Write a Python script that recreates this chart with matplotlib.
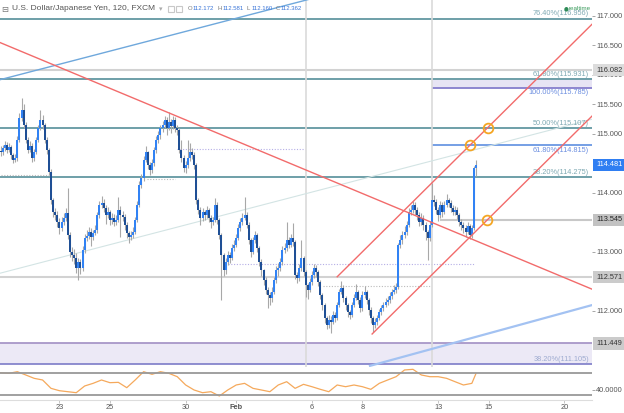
import numpy as np
import matplotlib
matplotlib.use('Agg')
import matplotlib.pyplot as plt
from matplotlib.transforms import blended_transform_factory
from matplotlib.patches import Rectangle

plt.rcParams['font.family'] = ['Liberation Sans', 'DejaVu Sans']

# USD/JPY 2h bars, FXCM
first_open = 114.72
closes = [
    114.69, 114.76, 114.81, 114.73, 114.78, 114.64, 114.56, 114.59, 114.90, 115.27,
    115.41, 115.15, 114.90, 114.73, 114.80, 114.59, 114.69, 114.90, 115.10, 115.24,
    115.15, 114.90, 114.73, 114.36, 113.88, 113.68, 113.63, 113.51, 113.41, 113.51,
    113.58, 113.66, 113.29, 113.00, 112.95, 112.90, 112.73, 112.83, 112.73, 113.03,
    113.24, 113.27, 113.34, 113.25, 113.32, 113.37, 113.63, 113.80, 113.83, 113.75,
    113.63, 113.68, 113.54, 113.58, 113.51, 113.54, 113.71, 113.63, 113.59, 113.46,
    113.32, 113.25, 113.29, 113.34, 113.54, 113.80, 114.14, 114.25, 114.56, 114.69,
    114.47, 114.39, 114.51, 114.73, 114.90, 114.98, 115.10, 115.15, 115.24, 115.10,
    115.20, 115.14, 115.24, 115.10, 115.07, 114.73, 114.59, 114.42, 114.47, 114.59,
    114.69, 114.64, 114.47, 113.88, 113.71, 113.58, 113.68, 113.63, 113.71, 113.58,
    113.51, 113.54, 113.80, 113.54, 113.29, 112.95, 112.69, 112.83, 112.95, 112.90,
    113.07, 113.12, 113.24, 113.41, 113.51, 113.58, 113.63, 113.46, 113.20, 113.00,
    113.20, 113.29, 113.07, 112.83, 112.69, 112.53, 112.36, 112.27, 112.22, 112.32,
    112.53, 112.69, 112.73, 112.83, 113.03, 113.07, 113.20, 113.12, 113.24, 113.17,
    112.61, 112.56, 112.73, 112.90, 112.66, 112.44, 112.36, 112.49, 112.61, 112.73,
    112.66, 112.49, 112.27, 112.10, 111.88, 111.76, 111.85, 111.81, 111.93, 111.88,
    112.10, 112.32, 112.39, 112.22, 112.10, 111.98, 111.93, 112.10, 112.22, 112.32,
    112.19, 112.05, 112.27, 112.32, 112.19, 112.02, 111.88, 111.76, 111.81, 111.88,
    111.98, 112.05, 112.10, 112.15, 112.19, 112.25, 112.32, 112.36, 112.41, 113.12,
    113.20, 113.29, 113.34, 113.46, 113.68, 113.71, 113.80, 113.71, 113.63, 113.51,
    113.58, 113.46, 113.34, 113.24, 113.46, 113.88, 113.85, 113.71, 113.63, 113.80,
    113.68, 113.80, 113.88, 113.83, 113.75, 113.68, 113.71, 113.63, 113.51, 113.46,
    113.41, 113.34, 113.44, 113.29, 113.41, 114.42, 114.48]
highs = [
    114.80, 114.82, 114.88, 114.86, 114.84, 114.81, 114.67, 114.66, 114.96, 115.35,
    115.61, 115.50, 115.20, 114.95, 114.88, 114.84, 114.75, 114.95, 115.16, 115.40,
    115.32, 115.18, 114.95, 114.77, 114.40, 113.92, 113.75, 113.70, 113.58, 113.60,
    113.66, 113.74, 114.08, 113.34, 113.08, 113.05, 112.98, 112.90, 112.88, 113.10,
    113.30, 113.38, 113.42, 113.40, 113.38, 113.46, 113.68, 113.86, 113.95, 113.90,
    113.80, 113.76, 113.72, 113.66, 113.64, 113.62, 113.93, 113.78, 113.70, 113.64,
    113.50, 113.36, 113.36, 113.42, 113.60, 113.86, 114.20, 114.32, 114.62, 114.80,
    114.72, 114.52, 114.58, 114.78, 114.96, 115.05, 115.16, 115.22, 115.30, 115.28,
    115.37, 115.26, 115.30, 115.28, 115.16, 115.10, 114.90, 114.64, 114.54, 114.90,
    114.85, 114.76, 114.70, 114.50, 113.92, 113.76, 113.74, 113.72, 113.78, 113.74,
    113.62, 113.60, 113.92, 113.84, 113.58, 113.32, 112.99, 112.90, 113.02, 113.00,
    113.14, 113.20, 113.30, 113.47, 113.58, 113.66, 113.93, 113.68, 113.50, 113.24,
    113.26, 113.36, 113.32, 113.10, 112.88, 112.72, 112.58, 112.40, 112.32, 112.40,
    112.58, 112.76, 112.82, 112.90, 113.10, 113.16, 113.50, 113.26, 113.30, 113.49,
    113.20, 112.66, 112.80, 113.20, 112.94, 112.70, 112.48, 112.56, 112.68, 112.80,
    112.78, 112.70, 112.52, 112.30, 112.14, 111.92, 111.94, 111.92, 112.00, 111.98,
    112.16, 112.38, 112.50, 112.44, 112.26, 112.14, 112.02, 112.16, 112.28, 112.45,
    112.36, 112.24, 112.34, 112.42, 112.36, 112.22, 112.06, 111.92, 111.88, 111.94,
    112.04, 112.10, 112.16, 112.22, 112.26, 112.32, 112.38, 112.44, 112.48, 113.16,
    113.28, 113.36, 113.44, 113.52, 113.74, 113.80, 113.86, 113.84, 113.76, 113.68,
    113.66, 113.62, 113.50, 113.38, 113.52, 114.17, 113.96, 113.90, 113.76, 113.86,
    113.84, 113.86, 113.98, 113.92, 113.88, 113.80, 113.78, 113.76, 113.66, 113.56,
    113.50, 113.46, 113.50, 113.48, 113.46, 114.46, 114.56]
lows = [
    114.62, 114.65, 114.72, 114.68, 114.70, 114.58, 114.50, 114.52, 114.55, 114.86,
    115.22, 115.10, 114.84, 114.68, 114.70, 114.52, 114.55, 114.66, 114.86, 115.06,
    115.08, 114.84, 114.66, 114.30, 113.82, 113.60, 113.55, 113.42, 113.30, 113.36,
    113.46, 113.52, 113.22, 112.92, 112.85, 112.80, 112.64, 112.53, 112.62, 112.68,
    112.98, 113.18, 113.22, 113.10, 113.20, 113.28, 113.33, 113.58, 113.74, 113.68,
    113.48, 113.58, 113.45, 113.48, 113.44, 113.46, 113.50, 113.25, 113.52, 113.38,
    113.24, 113.15, 113.20, 113.24, 113.30, 113.50, 113.76, 114.08, 114.20, 114.52,
    114.40, 114.30, 114.34, 114.46, 114.68, 114.84, 114.92, 115.04, 115.10, 114.98,
    115.06, 115.02, 115.08, 115.04, 114.98, 114.68, 114.52, 114.36, 114.34, 114.42,
    114.55, 114.58, 114.40, 113.82, 113.64, 113.46, 113.52, 113.55, 113.58, 113.50,
    113.40, 113.45, 113.50, 113.48, 113.22, 112.19, 112.60, 112.62, 112.78, 112.82,
    112.86, 113.02, 113.08, 113.20, 113.36, 113.46, 113.54, 113.40, 113.14, 112.92,
    112.96, 113.16, 113.00, 112.76, 112.60, 112.44, 112.28, 112.05, 112.10, 112.16,
    112.28, 112.48, 112.60, 112.68, 112.78, 112.98, 113.02, 113.06, 113.08, 113.10,
    112.54, 112.48, 112.50, 112.68, 112.60, 112.24, 112.20, 112.32, 112.44, 112.56,
    112.58, 112.42, 112.20, 112.02, 111.80, 111.70, 111.72, 111.63, 111.78, 111.82,
    111.84, 112.06, 112.28, 112.16, 112.02, 111.90, 111.86, 111.90, 112.06, 112.18,
    112.12, 111.98, 112.00, 112.22, 112.12, 111.94, 111.80, 111.64, 111.72, 111.76,
    111.84, 111.94, 112.00, 112.06, 112.10, 112.14, 112.20, 112.28, 112.30, 112.38,
    113.06, 113.14, 113.24, 113.28, 113.42, 113.62, 113.66, 113.62, 113.55, 113.44,
    113.46, 113.38, 113.20, 112.86, 113.18, 113.42, 113.78, 113.64, 113.52, 113.58,
    113.60, 113.64, 113.76, 113.76, 113.68, 113.62, 113.62, 113.56, 113.44, 113.38,
    113.32, 113.26, 113.30, 113.22, 113.24, 113.38, 114.28]

# RSI read every 4 bars, plus the last bar
rsi_vals = [70.5, 69.4, 72.4, 66.4, 60.3, 57.3, 42.1, 37.8, 36.0, 34.2,
            46.4, 51.2, 57.3, 52.4, 53.0, 43.3, 57.3, 72.4, 67.6, 72.4,
            69.4, 63.3, 48.2, 39.1, 34.2, 36.0, 28.2, 39.1, 48.2, 51.2,
            42.1, 39.1, 36.0, 48.2, 54.2, 42.1, 49.4, 45.1, 40.3, 36.0,
            48.2, 45.1, 48.2, 45.1, 40.3, 51.2, 57.3, 63.3, 75.5, 76.7,
            66.4, 63.3, 63.3, 60.3, 54.2, 48.2, 51.2, 69.4]
rsi_bars = list(range(0, 225, 4)) + [226]

day_offsets = [0, 2, 5, 7, 10, 12, 15, 17, 20]
day_labels = ['23', '25', '30', 'Feb', '6', '8', '13', '15', '20']
bars_per_day = 12
first_day_bar = 28

teal_levels = [116.956, 115.931, 115.107, 114.275]
teal_names = ['76.40%', '61.80%', '50.00%', '38.20%']
blue_levels = [115.785, 114.815]
blue_names = ['100.00%', '61.80%']
zone_low = [111.105, 111.449]
price_marks = [116.082, 114.481, 113.545, 112.571, 111.449]

# drawn tools: (bar, price) endpoints
red_down = [(-0.24, 116.55), (281.1, 112.37)]
chan_up = [(160.0, 112.58), (281.1, 116.86)]
chan_lo_start = (176.6, 111.61)
blue_up = [(-0.24, 115.92), (281.1, 118.53)]
faint_up = [(-0.24, 112.64), (281.1, 115.25)]
lblue_up = [(175.6, 111.07), (281.1, 112.10)]
vlines_at = [145, 205]
box_start = 205.1
support_start = 209

W, H = 624, 413
XMAX = 281.1
fig = plt.figure(figsize=(W / 100, H / 100), dpi=100)
ax = fig.add_axes([0, (H - 367) / H, 592 / W, 367 / H])
ax2 = fig.add_axes([0, (H - 400) / H, 592 / W, 33 / H])

teal = '#6e9fa8'
bars = np.arange(len(closes))
c = np.array(closes)
o = np.array([first_open] + closes[:-1])
hi = np.array(highs)
lo = np.array(lows)

# levels and zones
for lv in teal_levels:
    ax.axhline(lv, color=teal, lw=1.4, zorder=1)
ax.axhline(116.082, color='#d2d2d2', lw=1.5, zorder=1)
ax.axhline(112.571, color='#d2d2d2', lw=1.5, zorder=1)
ax.hlines(113.545, support_start, XMAX, color='#c8c8c8', lw=1.5, zorder=1)
ax.fill_between([box_start, XMAX], blue_levels[0], teal_levels[1], color='#e7e4f4', lw=0, zorder=0.5)
ax.hlines(blue_levels[0], box_start, XMAX, color='#8d86d0', lw=1.4, zorder=1)
ax.hlines(blue_levels[1], box_start, XMAX, color='#5d8fe0', lw=1.2, zorder=1)
ax.axhspan(zone_low[0], zone_low[1], color='#ece9f6', lw=0, zorder=0.5)
ax.axhline(zone_low[1], color='#a897c8', lw=1.3, zorder=1)
ax.axhline(zone_low[0], color='#7d7cc8', lw=1.2, zorder=1)

# dotted guides
ax.hlines(114.75, 83.9, 144.7, color='#b5aee6', lw=0.8, ls=(0, (1, 1.5)), zorder=1)
ax.hlines(114.31, 0, 23, color='#bbbbbb', lw=0.8, ls=(0, (1, 1.5)), zorder=1)
ax.hlines(114.24, 69.6, 83, color='#bbbbbb', lw=0.8, ls=(0, (1, 1.5)), zorder=1)
ax.hlines(112.80, 108, 225.6, color='#b5aee6', lw=0.8, ls=(0, (1, 1.5)), zorder=1)
ax.hlines(112.42, 153.3, 204, color='#bbbbbb', lw=0.8, ls=(0, (1, 1.5)), zorder=1)

for b in vlines_at:
    ax.axvline(b, color='#dadada', lw=1.2, zorder=1)

# trend lines
ax.plot(*zip(*faint_up), color='#d3e4e4', lw=0.8, zorder=1.5)
ax.plot(*zip(*blue_up), color='#6fa8dc', lw=1.0, zorder=2)
ax.plot(*zip(*lblue_up), color='#a3c2f2', lw=1.6, zorder=2)

# candles
ax.vlines(bars, lo, hi, color='#a8a8a8', lw=0.8, zorder=3)
cols = np.where(c >= o, '#3182f4', '#1f4f95')
ax.bar(bars, np.maximum(np.abs(c - o), 0.015), bottom=np.minimum(o, c),
       width=0.95, color=cols, lw=0, zorder=3.5)

ax.plot(*zip(*red_down), color='#f26b6b', lw=1.0, zorder=4)
ax.plot(*zip(*chan_up), color='#f26b6b', lw=1.0, zorder=4)
slope = (chan_up[1][1] - chan_up[0][1]) / (chan_up[1][0] - chan_up[0][0])
chan_lo = [chan_lo_start, (XMAX, chan_lo_start[1] + (XMAX - chan_lo_start[0]) * slope)]
ax.plot(*zip(*chan_lo), color='#f26b6b', lw=1.0, zorder=4)

# circled intersections
pts = [(chan_up[0][0] + (lv - chan_up[0][1]) / slope, lv) for lv in (teal_levels[2], blue_levels[1])]
pts.append((chan_lo_start[0] + (113.545 - chan_lo_start[1]) / slope, 113.545))
for px, py in pts:
    ax.plot(px, py, 'o', ms=7, mfc='none', mec='#f5a623', mew=1.3, zorder=5)

# fib labels
blend = blended_transform_factory(ax.transAxes, ax.transData)
for lv, nm in zip(teal_levels, teal_names):
    ax.annotate(f'{nm}({lv:.3f})', xy=(0.995, lv), xycoords=blend, xytext=(0, 0.8),
                textcoords='offset points', ha='right', va='bottom', fontsize=5.3, color='#7fa9b3')
for lv, nm in zip(blue_levels, blue_names):
    ax.annotate(f'{nm}({lv:.3f})', xy=(0.995, lv), xycoords=blend, xytext=(0, -1.2),
                textcoords='offset points', ha='right', va='top', fontsize=5.3, color='#6d8fe0')
ax.annotate(f'38.20%({zone_low[0]:.3f})', xy=(0.995, zone_low[0]), xycoords=blend, xytext=(0, 0.8),
            textcoords='offset points', ha='right', va='bottom', fontsize=5.3, color='#9eabd0')

ax.set_xlim(-0.24, XMAX)
ax.set_ylim(117.271 - 367 / 59, 117.271)
ax.set_xticks([])
ax.yaxis.tick_right()
# scale ticks, leaving out the ones hidden under the price boxes
ticks = [t for t in np.arange(111.5, 117.01, 0.5)
         if t == 116.0 or min(abs(t - m) for m in price_marks) > 0.1]
ax.set_yticks(ticks)
ax.set_yticklabels([f'{t:.3f}' for t in ticks])
ax.tick_params(axis='y', length=2, width=0.6, color='#999999', pad=1, labelsize=5.3, labelcolor='#555555')
for s in ax.spines.values():
    s.set_visible(False)

# price boxes on the scale
box_fc = ['#dcdcdc', '#2f7ef2', '#c2c2c2', '#cbcbcb', '#cbcbcb']
box_tc = ['#333333', 'white', '#222222', '#333333', '#333333']
for lv, fc, tc in zip(price_marks, box_fc, box_tc):
    ax.text(1 + 4 / 592, lv, f'{lv:.3f}', transform=blend, ha='left', va='center', fontsize=5.3,
            color=tc, zorder=10, bbox=dict(boxstyle='square,pad=0.35', fc=fc, ec='none'))

# RSI pane
ax2.plot(rsi_bars, rsi_vals, color='#f5a95c', lw=0.9)
ax2.axhline(70, color='#999999', lw=1.3)
ax2.axhline(30, color='#999999', lw=1.3)
ax2.set_xlim(-0.24, XMAX)
ax2.set_ylim(70 - 27 / 0.55, 70 + 6 / 0.55)
ax2.yaxis.tick_right()
ax2.set_yticks([40])
ax2.set_yticklabels(['40.0000'])
ax2.tick_params(axis='y', length=2, width=0.6, color='#999999', pad=1, labelsize=5.3, labelcolor='#555555')
ax2.set_xticks([first_day_bar + bars_per_day * d for d in day_offsets])
ax2.set_xticklabels(day_labels)
ax2.tick_params(axis='x', length=2, width=0.6, color='#bbbbbb', pad=1, labelsize=5.3, labelcolor='#555555')
for t in ax2.get_xticklabels():
    if t.get_text() == 'Feb':
        t.set_fontweight('bold')
for k, s in ax2.spines.items():
    s.set_visible(k == 'bottom')
ax2.spines['bottom'].set_color('#dddddd')
ax2.spines['bottom'].set_linewidth(0.8)

# header
ty = 1 - 9 / H
fig.text(1 / W, ty, '\u229f', fontsize=6, color='#777777', va='center', family=['DejaVu Sans'])
fig.text(12 / W, ty, 'U.S. Dollar/Japanese Yen, 120, FXCM', fontsize=6, color='#555555', va='center')
fig.text(159 / W, ty, '\u25be', fontsize=5, color='#aaaaaa', va='center', family=['DejaVu Sans'])
for xx in (168, 176):
    fig.patches.append(Rectangle((xx / W, (H - 12) / H), 6 / W, 6 / H, transform=fig.transFigure,
                                 fc='none', ec='#c8c8c8', lw=0.8))
ohlc_keys = ['O', 'H', 'L', 'C']
ohlc_vals = ['112.172', '112.581', '112.160', '112.362']
for i, (k, v) in enumerate(zip(ohlc_keys, ohlc_vals)):
    x0 = 188 + 29.3 * i
    fig.text(x0 / W, ty, k, fontsize=4.3, color='#777777', va='center')
    fig.text((x0 + 5) / W, ty, v, fontsize=4.3, color='#3a75d8', va='center')
fig.text(566 / W, ty, '\u25cf', fontsize=4, color='#2e8b57', va='center', ha='center', family=['DejaVu Sans'])
fig.text(569 / W, ty, 'realtime', fontsize=4.5, color='#3a9b5c', va='center')

fig.savefig('out.png', dpi=100)
